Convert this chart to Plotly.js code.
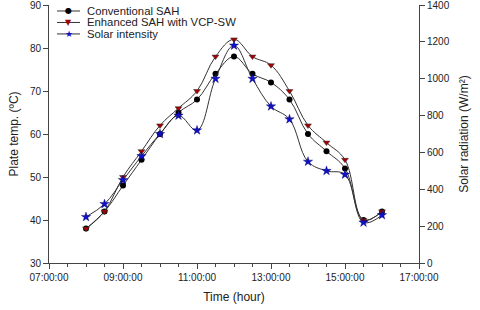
<!DOCTYPE html>
<html>
<head>
<meta charset="utf-8">
<script src="https://cdn.plot.ly/plotly-3.0.1.min.js"></script>
<style>html,body{margin:0;padding:0;background:#fff}#chart{width:480px;height:310px}</style>
</head>
<body>
<div id="chart"></div>
<script>
const times = ["08:00:00","08:30:00","09:00:00","09:30:00","10:00:00","10:30:00","11:00:00","11:30:00","12:00:00","12:30:00","13:00:00","13:30:00","14:00:00","14:30:00","15:00:00","15:30:00","16:00:00"];
const conventionalSAH = [38,42,48,54,60,65,68,74,78,74,72,68,60,56,52,40,42];
const enhancedSAH = [38,42,50,56,62,66,70,78,82,78,76,70,62,58,54,40,42];
const solarIntensity = [250,320,450,580,700,800,720,1000,1180,1000,850,780,550,500,480,220,260];
const xTickLabels = ["07:00:00","09:00:00","11:00:00","13:00:00","15:00:00","17:00:00"];
const yTicks = [30,40,50,60,70,80,90];
const y2Ticks = [0,200,400,600,800,1000,1200,1400];
const seriesNames = ["Conventional SAH","Enhanced SAH with VCP-SW","Solar intensity"];
const legendSymbols = ["●","▼","★"];
const markerColors = ["#000000","#a50000","#1010c8"];

const d = t => "2000-01-01 " + t;
const xs = times.map(d);
const lineStyle = {color:"#333", width:1, shape:"spline", smoothing:1.1};

const traces = [
  {x:xs, y:conventionalSAH, name:seriesNames[0], mode:"lines+markers", line:lineStyle,
   marker:{symbol:"circle", size:6, color:markerColors[0]}},
  {x:xs, y:enhancedSAH, name:seriesNames[1], mode:"lines+markers", line:lineStyle,
   marker:{symbol:"triangle-down", size:6, color:markerColors[1], line:{color:"#333", width:0.5}}},
  {x:xs, y:solarIntensity, name:seriesNames[2], mode:"lines+markers", line:lineStyle, yaxis:"y2",
   marker:{symbol:"star", size:7, color:markerColors[2], line:{color:"#000060", width:0.4}}}
];

// custom compact legend (pixel layout -> paper coords)
const L = 49, R = 419, T = 5, B = 263.5;
const px = v => (v - L) / (R - L);
const py = v => (B - v) / (B - T);
const rowsY = [11, 22.5, 34];
const shapes = [], annotations = [];
seriesNames.forEach((n, i) => {
  shapes.push({type:"line", xref:"paper", yref:"paper", x0:px(57), x1:px(80), y0:py(rowsY[i]), y1:py(rowsY[i]),
    line:{color:"#333", width:1}});
  annotations.push({xref:"paper", yref:"paper", x:px(68.5), y:py(rowsY[i]), xanchor:"center", yanchor:"middle",
    text:legendSymbols[i], showarrow:false,
    font:{family:"DejaVu Sans, sans-serif", size:i===2?9:8, color:markerColors[i]}});
  annotations.push({xref:"paper", yref:"paper", x:px(85), y:py(rowsY[i]), xanchor:"left", yanchor:"middle",
    text:n, showarrow:false, font:{family:"Liberation Sans, Arial, sans-serif", size:11.3, color:"#222"}});
});

const font = {family:"Liberation Sans, Arial, sans-serif", size:10, color:"#222"};
const layout = {
  width:480, height:310,
  margin:{l:49, r:61, t:5, b:46.5},
  paper_bgcolor:"#fff", plot_bgcolor:"#fff",
  font:font,
  showlegend:false,
  shapes:shapes, annotations:annotations,
  xaxis:{type:"date", range:[d("07:00:00"), d("17:00:00")],
    tickvals:xTickLabels.map(d), ticktext:xTickLabels, ticklabeloverflow:"allow",
    ticks:"outside", ticklen:5, tickcolor:"#444", showgrid:false, zeroline:false,
    showline:true, linecolor:"#444", linewidth:1,
    minor:{dtick:1800000, ticks:"outside", ticklen:3, tickcolor:"#444", showgrid:false},
    title:{text:"Time (hour)", font:{size:12, color:"#222"}, standoff:10}},
  yaxis:{range:[30,90], tickvals:yTicks, ticktext:yTicks.map(String), ticklabeloverflow:"allow",
    ticks:"outside", ticklen:5, tickcolor:"#444",
    showgrid:false, zeroline:false, showline:true, linecolor:"#444", linewidth:1,
    title:{text:"Plate temp. (ºC)", font:{size:12, color:"#222"}, standoff:8}},
  yaxis2:{range:[0,1400], tickvals:y2Ticks, ticktext:y2Ticks.map(String), ticklabeloverflow:"allow",
    overlaying:"y", side:"right", ticks:"outside", ticklen:5,
    tickcolor:"#444", showgrid:false, zeroline:false, showline:true, linecolor:"#444", linewidth:1,
    title:{text:"Solar radiation (W/m²)", font:{size:12, color:"#222"}, standoff:10}}
};

Plotly.newPlot("chart", traces, layout, {displayModeBar:false, staticPlot:true});
</script>
</body>
</html>
